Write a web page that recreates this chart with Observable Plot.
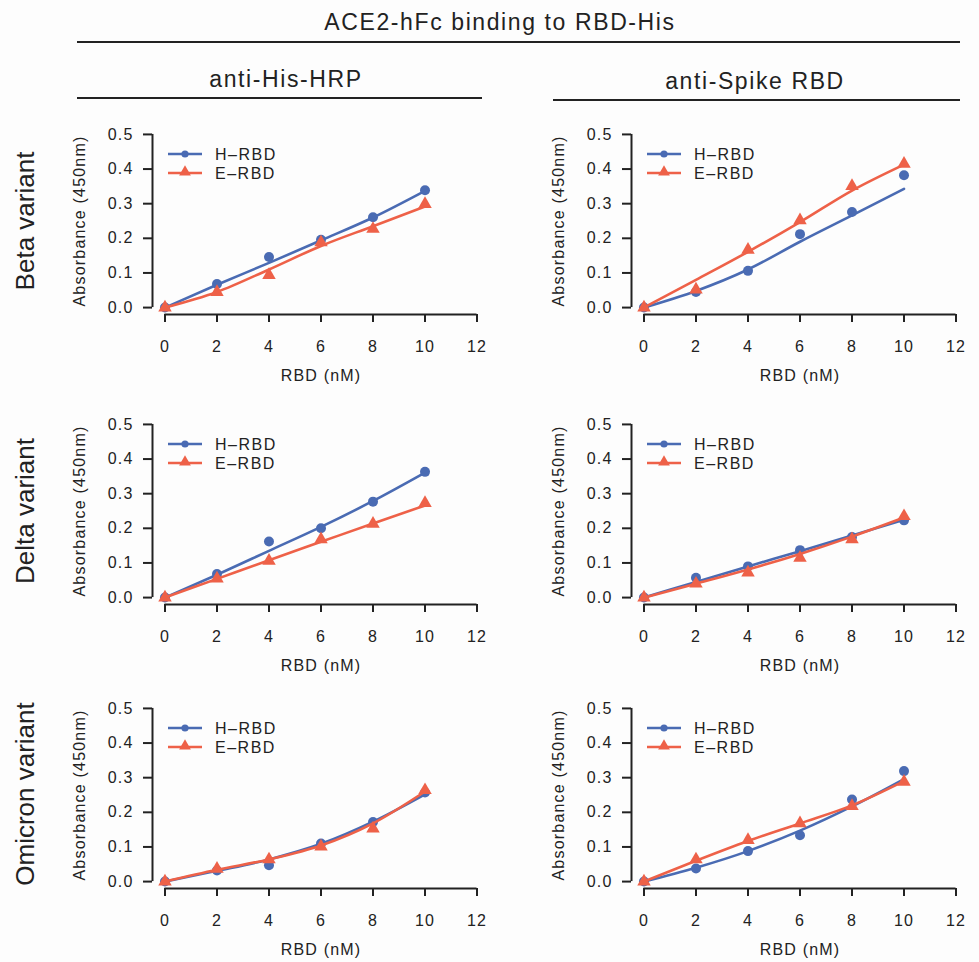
<!DOCTYPE html>
<html><head><meta charset="utf-8">
<script src="https://cdn.jsdelivr.net/npm/d3@7"></script>
<script src="https://cdn.jsdelivr.net/npm/@observablehq/plot@0.6"></script>
<style>
body{margin:0;background:#fdfdfd;}
#root{position:relative;width:979px;height:962px;overflow:hidden;font-family:"Liberation Sans",Arial,sans-serif;color:#222;}
.hdr{position:absolute;transform:translate(-50%,-50%);white-space:nowrap;font-size:23px;letter-spacing:1.6px;}
.rule{position:absolute;height:2px;background:#222;}
.rowlab{position:absolute;transform:translate(-50%,-50%) rotate(-90deg);white-space:nowrap;font-size:26px;}
.panel{position:absolute;}
.panel svg{max-width:none;}
.legend{position:absolute;font-size:15px;letter-spacing:1.5px;}
</style></head><body><div id="root"></div><script>
// ---- data ----
const doses = [0, 2, 4, 6, 8, 10];
const xTicks = [0, 2, 4, 6, 8, 10, 12];
const yTicks = [0, 0.1, 0.2, 0.3, 0.4, 0.5];
const seriesNames = ["H\u2013RBD", "E\u2013RBD"];
const title = "ACE2-hFc binding to RBD-His";
const columns = ["anti-His-HRP", "anti-Spike RBD"];
const variants = ["Beta variant", "Delta variant", "Omicron variant"];

// Beta, anti-His-HRP
const betaHisH = [0, 0.068, 0.146, 0.196, 0.261, 0.339];
const betaHisE = [0, 0.045, 0.094, 0.188, 0.227, 0.299];
const betaHisHFit = [0, 0.066, 0.129, 0.194, 0.260, 0.337];
const betaHisEFit = [0, 0.045, 0.110, 0.178, 0.235, 0.292];
// Beta, anti-Spike RBD
const betaSpkH = [0, 0.045, 0.106, 0.212, 0.276, 0.382];
const betaSpkE = [0, 0.052, 0.167, 0.252, 0.351, 0.415];
const betaSpkHFit = [0, 0.048, 0.110, 0.190, 0.266, 0.343];
const betaSpkEFit = [0, 0.080, 0.161, 0.247, 0.338, 0.413];
// Delta, anti-His-HRP
const deltaHisH = [0, 0.068, 0.162, 0.200, 0.277, 0.363];
const deltaHisE = [0, 0.055, 0.106, 0.168, 0.213, 0.273];
const deltaHisHFit = [0, 0.066, 0.135, 0.204, 0.279, 0.361];
const deltaHisEFit = [0, 0.054, 0.108, 0.161, 0.214, 0.266];
// Delta, anti-Spike RBD
const deltaSpkH = [0, 0.057, 0.090, 0.137, 0.175, 0.223];
const deltaSpkE = [0, 0.040, 0.072, 0.115, 0.168, 0.235];
const deltaSpkHFit = [0, 0.045, 0.090, 0.134, 0.179, 0.225];
const deltaSpkEFit = [0, 0.040, 0.081, 0.126, 0.176, 0.231];
// Omicron, anti-His-HRP
const omiHisH = [0, 0.032, 0.047, 0.110, 0.172, 0.257];
const omiHisE = [0, 0.037, 0.064, 0.101, 0.153, 0.264];
const omiHisHFit = [0, 0.031, 0.064, 0.109, 0.173, 0.252];
const omiHisEFit = [0, 0.034, 0.064, 0.104, 0.168, 0.260];
// Omicron, anti-Spike RBD
const omiSpkH = [0, 0.038, 0.088, 0.134, 0.237, 0.319];
const omiSpkE = [0, 0.064, 0.120, 0.168, 0.218, 0.288];
const omiSpkHFit = [0, 0.040, 0.088, 0.147, 0.217, 0.296];
const omiSpkEFit = [0, 0.060, 0.117, 0.168, 0.220, 0.290];

const panels = [
  [[betaHisH, betaHisE, betaHisHFit, betaHisEFit], [betaSpkH, betaSpkE, betaSpkHFit, betaSpkEFit]],
  [[deltaHisH, deltaHisE, deltaHisHFit, deltaHisEFit], [deltaSpkH, deltaSpkE, deltaSpkHFit, deltaSpkEFit]],
  [[omiHisH, omiHisE, omiHisHFit, omiHisEFit], [omiSpkH, omiSpkE, omiSpkHFit, omiSpkEFit]]
];

// ---- style / layout ----
const BLUE = "#4a6bb3", RED = "#ee6148", INK = "#222";
const W = 439, H = 269, ML = 92, MR = 10, MT = 10, MB = 72;
const colLeft = [60, 538.5];
const rowTop = [117, 407, 690.5];
const xDom = [-0.48, 12.48], yDom = [-0.02, 0.52];

const root = document.getElementById("root");
function add(cls, text, css) {
  const d = document.createElement("div");
  d.className = cls; if (text) d.textContent = text;
  Object.assign(d.style, css); root.appendChild(d); return d;
}
add("hdr", title, {left: "500px", top: "22px"});
add("rule", "", {left: "77px", top: "41px", width: "883px"});
add("hdr", columns[0], {left: "286px", top: "79px"});
add("rule", "", {left: "77px", top: "97px", width: "405px"});
add("hdr", columns[1], {left: "755px", top: "81px"});
add("rule", "", {left: "553px", top: "99px", width: "407px"});

function makePanel(set) {
  const [hPts, ePts, hFit, eFit] = set;
  const rows = (arr, s) => doses.map((d, i) => ({x: d, y: arr[i], s}));
  return Plot.plot({
    width: W, height: H, marginLeft: ML, marginRight: MR, marginTop: MT, marginBottom: MB,
    x: {domain: xDom}, y: {domain: yDom},
    style: {background: "transparent", fontSize: "16px", fontFamily: "'Liberation Sans', Arial, sans-serif", letterSpacing: "1.2px", color: INK, maxWidth: "none"},
    marks: [
      Plot.axisX({ticks: xTicks, tickSize: 8, tickPadding: 18, strokeWidth: 2, fontSize: 16, label: "RBD (nM)", labelAnchor: "center", labelOffset: 66, labelArrow: "none"}),
      Plot.axisY({ticks: yTicks, tickFormat: d3.format(".1f"), tickSize: 9, tickPadding: 10, strokeWidth: 2, fontSize: 16, label: "Absorbance (450nm)", labelAnchor: "center", labelOffset: 79, labelArrow: "none"}),
      Plot.ruleY([yDom[0]], {x1: xTicks[0], x2: xTicks[xTicks.length - 1], stroke: INK, strokeWidth: 2}),
      Plot.ruleX([xDom[0]], {y1: yTicks[0], y2: yTicks[yTicks.length - 1], stroke: INK, strokeWidth: 2}),
      Plot.line(rows(hFit, "H"), {x: "x", y: "y", stroke: BLUE, strokeWidth: 2.6, curve: "monotone-x"}),
      Plot.dot(rows(hPts, "H"), {x: "x", y: "y", r: 5, fill: BLUE, symbol: "circle"}),
      Plot.line(rows(eFit, "E"), {x: "x", y: "y", stroke: RED, strokeWidth: 2.6, curve: "monotone-x"}),
      Plot.dot(rows(ePts, "E"), {x: "x", y: "y", r: 5, fill: RED, symbol: "triangle"})
    ]
  });
}

function legendSvg() {
  return `<svg width="200" height="40" style="overflow:visible">
    <line x1="0" x2="34" y1="7" y2="7" stroke="${BLUE}" stroke-width="2.5"/>
    <circle cx="17" cy="7" r="3.6" fill="${BLUE}"/>
    <text x="47" y="7" dy="0.35em" fill="${INK}" font-size="16" style="letter-spacing:1.5px">${seriesNames[0]}</text>
    <line x1="0" x2="34" y1="26" y2="26" stroke="${RED}" stroke-width="2.5"/>
    <path d="${d3.symbol(d3.symbolTriangle, 60)()}" transform="translate(17,25)" fill="${RED}"/>
    <text x="47" y="26" dy="0.35em" fill="${INK}" font-size="16" style="letter-spacing:1.5px">${seriesNames[1]}</text>
  </svg>`;
}

panels.forEach((row, r) => {
  const axTop = rowTop[r] + MT + (yDom[1] - 0.5) / (yDom[1] - yDom[0]) * (H - MT - MB);
  const axBot = rowTop[r] + MT + (yDom[1] - 0) / (yDom[1] - yDom[0]) * (H - MT - MB);
  add("rowlab", variants[r], {left: "25px", top: ((axTop + axBot) / 2) + "px"});
  row.forEach((set, c) => {
    const wrap = add("panel", "", {left: colLeft[c] + "px", top: rowTop[r] + "px", width: W + "px", height: H + "px"});
    wrap.appendChild(makePanel(set));
    const lg = add("legend", "", {left: (colLeft[c] + ML + 16) + "px", top: (rowTop[r] + MT + 20) + "px"});
    lg.innerHTML = legendSvg();
  });
});
</script></body></html>
